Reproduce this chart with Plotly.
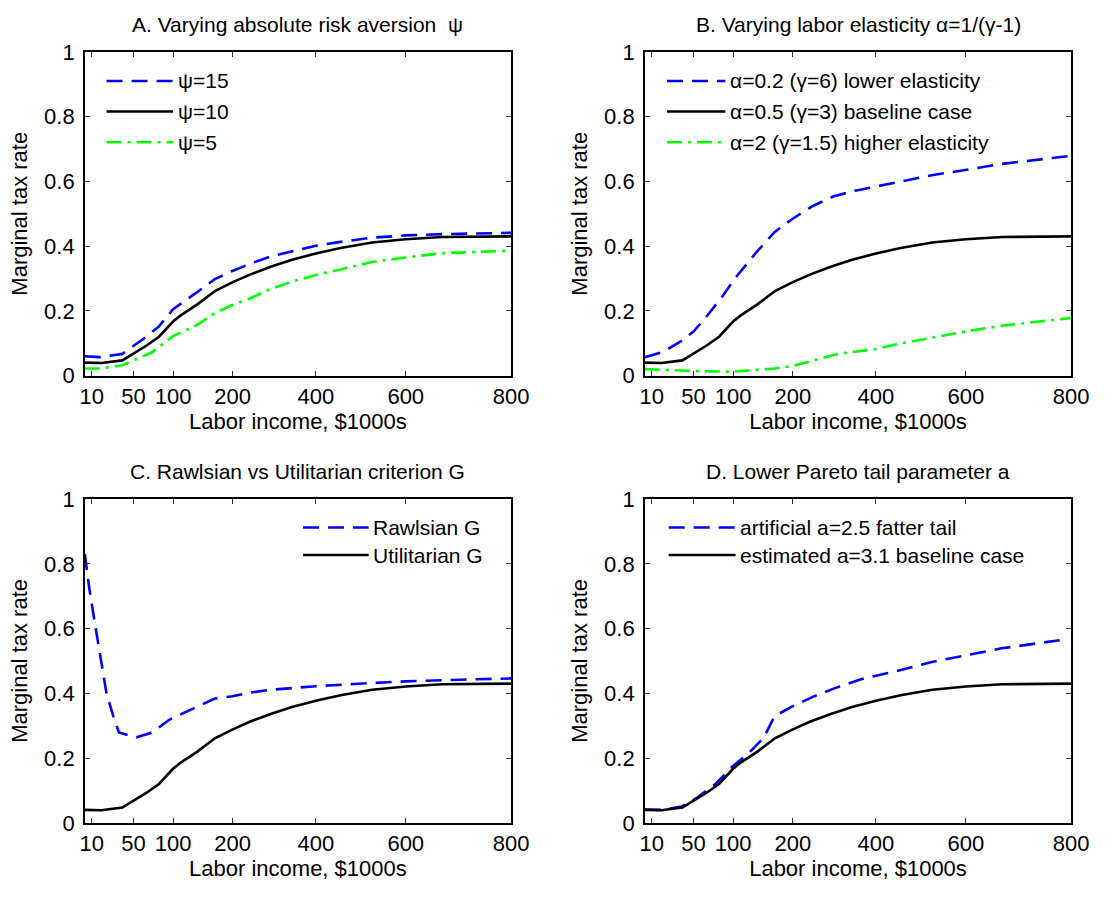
import plotly.graph_objects as go

# ---------------- data (x in axis-position units, 0..100) ----------------
tick_pos = [1.6, 11.4, 20.7, 34.7, 54.2, 75.3, 100]
tick_labels = ["10", "50", "100", "200", "400", "600", "800"]
y_ticks = [0, 0.2, 0.4, 0.6, 0.8, 1]
y_tick_labels = ["0", "0.2", "0.4", "0.6", "0.8", "1"]

# baseline (psi=10, alpha=0.5, Utilitarian, a=3.1)
base_x = [0, 3.9, 8.8, 12.0, 14.5, 17.4, 20.7, 22.5, 26.4, 30.5, 34.6, 38.7, 43.6, 48.6, 54.2, 60.0, 67.4, 75.3, 83.8, 100]
base_y = [0.040, 0.039, 0.047, 0.073, 0.093, 0.120, 0.167, 0.186, 0.220, 0.261, 0.288, 0.312, 0.336, 0.358, 0.377, 0.394, 0.411, 0.421, 0.428, 0.430]

# Panel A
psi15_x = [0, 3.4, 8.8, 11.6, 14.1, 17.4, 20.7, 26.4, 30.5, 34.6, 38.7, 43.6, 48.6, 54.2, 60.0, 67.4, 75.3, 83.8, 100]
psi15_y = [0.060, 0.057, 0.067, 0.092, 0.117, 0.152, 0.205, 0.258, 0.298, 0.323, 0.345, 0.368, 0.383, 0.401, 0.413, 0.426, 0.433, 0.437, 0.441]
psi5_x = [0, 3.9, 8.8, 11.6, 15.8, 20.7, 26.4, 30.5, 34.6, 38.7, 43.6, 48.6, 54.2, 60.0, 67.4, 75.3, 83.8, 100]
psi5_y = [0.022, 0.022, 0.032, 0.047, 0.072, 0.122, 0.157, 0.193, 0.218, 0.238, 0.268, 0.290, 0.311, 0.328, 0.351, 0.365, 0.378, 0.386]

# Panel B
alpha02_x = [0, 4.1, 8.6, 11.5, 14.8, 18.1, 21.3, 26.3, 30.4, 34.5, 39.4, 44.3, 49.3, 54.2, 59.1, 67.3, 75.5, 83.7, 100]
alpha02_y = [0.057, 0.072, 0.107, 0.137, 0.188, 0.243, 0.303, 0.383, 0.443, 0.483, 0.524, 0.554, 0.571, 0.584, 0.599, 0.619, 0.636, 0.654, 0.679]
alpha2_x = [0, 4.9, 11.5, 20.5, 30.4, 34.5, 39.4, 45.2, 54.2, 59.1, 67.3, 75.5, 83.7, 100]
alpha2_y = [0.020, 0.017, 0.014, 0.012, 0.022, 0.029, 0.047, 0.067, 0.082, 0.097, 0.117, 0.137, 0.154, 0.178]

# Panel C
rawls_x = [0, 1.0, 2.2, 3.4, 5.1, 6.7, 8.0, 12.1, 15.8, 19.9, 23.9, 30.5, 34.6, 38.7, 43.6, 48.6, 54.2, 63.3, 75.3, 88.0, 100]
rawls_y = [0.830, 0.729, 0.629, 0.529, 0.399, 0.329, 0.279, 0.264, 0.279, 0.319, 0.344, 0.384, 0.391, 0.402, 0.411, 0.417, 0.422, 0.429, 0.437, 0.442, 0.446]

# Panel D
a25_x = [0, 4.1, 8.6, 12.3, 16.4, 20.5, 24.6, 27.9, 30.4, 34.5, 39.4, 45.2, 50.9, 59.1, 67.3, 75.5, 83.7, 97.3]
a25_y = [0.041, 0.040, 0.050, 0.078, 0.118, 0.173, 0.218, 0.263, 0.329, 0.359, 0.389, 0.419, 0.444, 0.469, 0.497, 0.519, 0.539, 0.564]

titles = ["A. Varying absolute risk aversion  \u03c8",
          "B. Varying labor elasticity \u03b1=1/(\u03b3-1)",
          "C. Rawlsian vs Utilitarian criterion G",
          "D. Lower Pareto tail parameter a"]
legA = ["\u03c8=15", "\u03c8=10", "\u03c8=5"]
legB = ["\u03b1=0.2 (\u03b3=6) lower elasticity", "\u03b1=0.5 (\u03b3=3) baseline case",
        "\u03b1=2 (\u03b3=1.5) higher elasticity"]
legC = ["Rawlsian G", "Utilitarian G"]
legD = ["artificial a=2.5 fatter tail", "estimated a=3.1 baseline case"]
x_title = "Labor income, $1000s"
y_title = "Marginal tax rate"

# ---------------- styling ----------------
W, H = 1114, 899
FONT = "Liberation Sans, Arial, sans-serif"
BLUE, BLACK, GREEN = "#0000ff", "#000000", "#00ff00"
DASH = "16px,9px"
DASHDOT = "15px,6px,3px,6px"
LW = 2.6
FS_TICK, FS_AX, FS_TITLE, FS_LEG = 22, 22, 21, 21

boxes = {  # left, right, top, bottom in px
    1: (81.5, 516.7, 41, 374),
    2: (653.3, 1088.7, 41, 374),
    3: (81.5, 516.7, 501, 834),
    4: (653.3, 1088.7, 501, 834),
}

fig = go.Figure()

def sfx(i):
    return "" if i == 1 else str(i)

def add_line(i, x, y, color, dash):
    fig.add_trace(go.Scatter(x=x, y=y, mode="lines", xaxis="x" + sfx(i), yaxis="y" + sfx(i),
                             line=dict(color=color, width=LW, dash=dash), showlegend=False,
                             hoverinfo="skip"))

# Panel A
add_line(1, psi15_x, psi15_y, BLUE, DASH)
add_line(1, base_x, base_y, BLACK, "solid")
add_line(1, psi5_x, psi5_y, GREEN, DASHDOT)
# Panel B
add_line(2, alpha02_x, alpha02_y, BLUE, DASH)
add_line(2, base_x, base_y, BLACK, "solid")
add_line(2, alpha2_x, alpha2_y, GREEN, DASHDOT)
# Panel C
add_line(3, rawls_x, rawls_y, BLUE, DASH)
add_line(3, base_x, base_y, BLACK, "solid")
# Panel D
add_line(4, a25_x, a25_y, BLUE, DASH)
add_line(4, base_x, base_y, BLACK, "solid")

layout = dict(width=W, height=H, margin=dict(l=0, r=0, t=0, b=0),
              paper_bgcolor="white", plot_bgcolor="white",
              font=dict(family=FONT, size=FS_TICK, color="black"))
annotations = []
shapes = []

for i, (l, r, t, b) in boxes.items():
    xd = [l / W, r / W]
    yd = [1 - b / H, 1 - t / H]
    axcommon = dict(showline=True, linecolor="black", linewidth=1.5, mirror="ticks",
                    ticks="inside", ticklen=5, tickwidth=1, tickcolor="#333333",
                    showgrid=False, zeroline=False, tickfont=dict(size=FS_TICK, family=FONT))
    layout["xaxis" + sfx(i)] = dict(domain=xd, range=[0, 100], anchor="y" + sfx(i),
                                   tickvals=tick_pos, ticktext=tick_labels,
                                   title=dict(text=x_title, standoff=3, font=dict(size=FS_AX)),
                                   **axcommon)
    layout["yaxis" + sfx(i)] = dict(domain=yd, range=[0, 1], anchor="x" + sfx(i),
                                   tickvals=y_ticks, ticktext=y_tick_labels, ticklabelstandoff=4,
                                   title=dict(text=y_title, standoff=10, font=dict(size=FS_AX)),
                                   **axcommon)
    annotations.append(dict(text=titles[i - 1], x=(l + r) / 2 / W, y=1 - (t - 28) / H,
                            xref="paper", yref="paper", showarrow=False,
                            font=dict(size=FS_TITLE, family=FONT), xanchor="center", yanchor="middle"))

def legend(i, entries, styles, x0, x1, xt, rows):
    for (txt, (color, dash), yy) in zip(entries, styles, rows):
        shapes.append(dict(type="line", xref="x%s domain" % sfx(i), yref="y%s domain" % sfx(i),
                           x0=x0, x1=x1, y0=yy, y1=yy, line=dict(color=color, width=LW, dash=dash)))
        annotations.append(dict(text=txt, x=xt, y=yy, xref="x%s domain" % sfx(i),
                                yref="y%s domain" % sfx(i), showarrow=False, xanchor="left",
                                yanchor="middle", font=dict(size=FS_LEG, family=FONT)))

sty3 = [(BLUE, DASH), (BLACK, "solid"), (GREEN, DASHDOT)]
sty2 = [(BLUE, DASH), (BLACK, "solid")]
legend(1, legA, sty3, 0.051, 0.207, 0.213, [0.910, 0.816, 0.721])
legend(2, legB, sty3, 0.052, 0.189, 0.195, [0.910, 0.816, 0.721])
legend(3, legC, sty2, 0.512, 0.666, 0.672, [0.912, 0.827])
legend(4, legD, sty2, 0.056, 0.213, 0.219, [0.912, 0.827])

layout["annotations"] = annotations
layout["shapes"] = shapes
fig.update_layout(**layout)
fig.write_html("out.html")
